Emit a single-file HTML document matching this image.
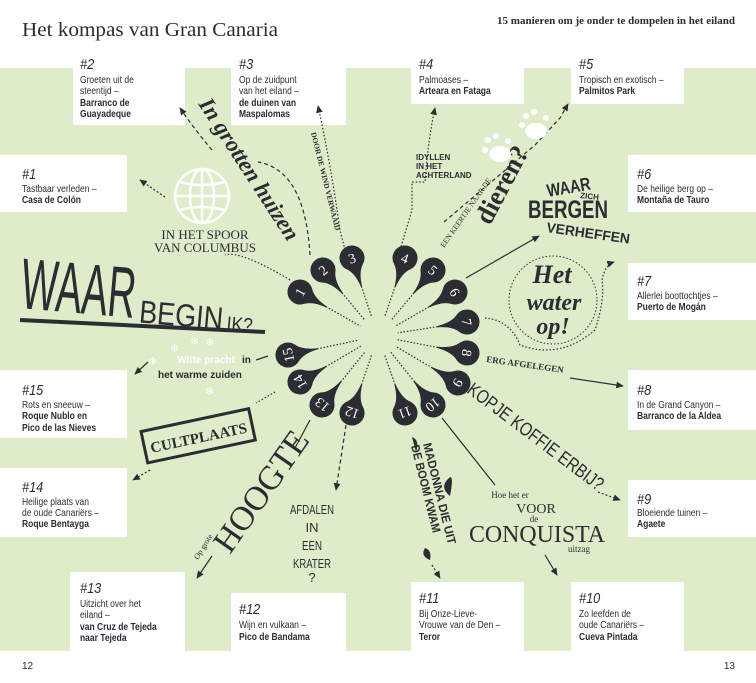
<!DOCTYPE html>
<html><head><meta charset="utf-8"><style>
html,body{margin:0;padding:0;background:#fff}
svg{display:block}
.n{font-family:"Liberation Sans",sans-serif}
.s{font-family:"Liberation Serif",serif}
</style></head><body>
<svg width="756" height="683" viewBox="0 0 756 683" xmlns="http://www.w3.org/2000/svg">
<defs>
<marker id="ah" viewBox="0 0 10 10" refX="8" refY="5" markerWidth="7" markerHeight="7" orient="auto"><path d="M0,1 L9,5 L0,9 Z" fill="#2b2d33"/></marker>
</defs>
<rect x="0" y="68" width="756" height="583" fill="#deecc9"/>
<text x="22" y="36" class="s" font-size="20" fill="#2b2d33" textLength="256" lengthAdjust="spacingAndGlyphs">Het kompas van Gran Canaria</text>
<text x="497" y="24" class="s" font-size="10" font-weight="bold" fill="#2b2d33" textLength="238" lengthAdjust="spacingAndGlyphs">15 manieren om je onder te dompelen in het eiland</text>
<text x="22" y="669" class="n" font-size="10" fill="#2b2d33">12</text>
<text x="735" y="669" class="n" font-size="10" text-anchor="end" fill="#2b2d33">13</text>

<g fill="#fff">
<rect x="73" y="45" width="112" height="80"/><rect x="231" y="45" width="115" height="80"/>
<rect x="411" y="45" width="113" height="59"/><rect x="571" y="45" width="113" height="59"/>
<rect x="0" y="155" width="127" height="57"/><rect x="628" y="155" width="128" height="57"/>
<rect x="628" y="263" width="128" height="57"/>
<rect x="0" y="370" width="127" height="68"/><rect x="628" y="370" width="128" height="60"/>
<rect x="0" y="468" width="127" height="69"/><rect x="628" y="480" width="128" height="57"/>
<rect x="70" y="572" width="115" height="79"/><rect x="231" y="593" width="115" height="58"/>
<rect x="411" y="582" width="113" height="69"/><rect x="571" y="582" width="113" height="69"/>
</g>
<g class="n" font-size="10" fill="#2b2d33">
<g transform="translate(80,0) scale(.85 1)"><text y="69" font-size="15" font-style="italic">#2</text><text y="83">Groeten uit de</text><text y="94">steentijd –</text><text y="106" font-weight="bold">Barranco de</text><text y="117" font-weight="bold">Guayadeque</text></g>
<g transform="translate(239,0) scale(.85 1)"><text y="69" font-size="15" font-style="italic">#3</text><text y="83">Op de zuidpunt</text><text y="94">van het eiland –</text><text y="106" font-weight="bold">de duinen van</text><text y="117" font-weight="bold">Maspalomas</text></g>
<g transform="translate(419,0) scale(.85 1)"><text y="69" font-size="15" font-style="italic">#4</text><text y="83">Palmoases –</text><text y="94" font-weight="bold">Arteara en Fataga</text></g>
<g transform="translate(579,0) scale(.85 1)"><text y="69" font-size="15" font-style="italic">#5</text><text y="83">Tropisch en exotisch –</text><text y="94" font-weight="bold">Palmitos Park</text></g>
<g transform="translate(22,0) scale(.85 1)"><text y="179" font-size="15" font-style="italic">#1</text><text y="192">Tastbaar verleden –</text><text y="203" font-weight="bold">Casa de Colón</text></g>
<g transform="translate(637,0) scale(.85 1)"><text y="179" font-size="15" font-style="italic">#6</text><text y="192">De heilige berg op –</text><text y="203" font-weight="bold">Montaña de Tauro</text></g>
<g transform="translate(637,0) scale(.85 1)"><text y="286" font-size="15" font-style="italic">#7</text><text y="299">Allerlei boottochtjes –</text><text y="310" font-weight="bold">Puerto de Mogán</text></g>
<g transform="translate(22,0) scale(.85 1)"><text y="395" font-size="15" font-style="italic">#15</text><text y="408">Rots en sneeuw –</text><text y="419" font-weight="bold">Roque Nublo en</text><text y="431" font-weight="bold">Pico de las Nieves</text></g>
<g transform="translate(637,0) scale(.85 1)"><text y="395" font-size="15" font-style="italic">#8</text><text y="408">In de Grand Canyon –</text><text y="419" font-weight="bold">Barranco de la Aldea</text></g>
<g transform="translate(22,0) scale(.85 1)"><text y="492" font-size="15" font-style="italic">#14</text><text y="505">Heilige plaats van</text><text y="516">de oude Canariërs –</text><text y="527" font-weight="bold">Roque Bentayga</text></g>
<g transform="translate(637,0) scale(.85 1)"><text y="504" font-size="15" font-style="italic">#9</text><text y="516">Bloeiende tuinen –</text><text y="527" font-weight="bold">Agaete</text></g>
<g transform="translate(80,0) scale(.85 1)"><text y="593" font-size="15" font-style="italic">#13</text><text y="607">Uitzicht over het</text><text y="618">eiland –</text><text y="630" font-weight="bold">van Cruz de Tejeda</text><text y="641" font-weight="bold">naar Tejeda</text></g>
<g transform="translate(239,0) scale(.85 1)"><text y="614" font-size="15" font-style="italic">#12</text><text y="628">Wijn en vulkaan –</text><text y="640" font-weight="bold">Pico de Bandama</text></g>
<g transform="translate(419,0) scale(.85 1)"><text y="603" font-size="15" font-style="italic">#11</text><text y="617">Bij Onze-Lieve-</text><text y="628">Vrouwe van de Den –</text><text y="640" font-weight="bold">Teror</text></g>
<g transform="translate(579,0) scale(.85 1)"><text y="603" font-size="15" font-style="italic">#10</text><text y="617">Zo leefden de</text><text y="628">oude Canariërs –</text><text y="640" font-weight="bold">Cueva Pintada</text></g>
</g>

<!-- connectors -->
<g fill="none" stroke="#2b2d33" stroke-width="1.2">
<path d="M165,197 L140,180" stroke-dasharray="2,2" marker-end="url(#ah)"/>
<path d="M290,280 Q240,250 225,255" stroke-dasharray="1.5,2"/>
<path d="M310,255 Q305,170 258,162" stroke-dasharray="4,3"/>
<path d="M212,150 Q195,130 180,108" stroke-dasharray="4,3" marker-end="url(#ah)"/>
<path d="M345,250 L340,230 Q330,160 318,106" stroke-dasharray="1.5,2" marker-end="url(#ah)"/>
<path d="M400,250 L412,210 L412,182 L425,182 Q428,140 435,108" stroke-dasharray="1.5,2" marker-end="url(#ah)"/>
<path d="M444,222 L535,145 L560,118 L568,104" stroke-dasharray="4,3" marker-end="url(#ah)"/>
<path d="M466,278 L539,236" marker-end="url(#ah)"/>
<path d="M485,318 Q510,320 520,345 Q560,360 595,330 Q605,300 602,280 Q605,265 614,262" stroke-dasharray="1.5,2" marker-end="url(#ah)"/>
<path d="M570,378 L623,386" marker-end="url(#ah)"/>
<path d="M598,492 L620,500" stroke-dasharray="2,2" marker-end="url(#ah)"/>
<path d="M442,418 L495,485"/>
<path d="M545,555 L557,575" marker-end="url(#ah)"/>
<path d="M432,565 L440,578" stroke-dasharray="2,2" marker-end="url(#ah)"/>
<path d="M346,425 L336,490" stroke-dasharray="4,3" marker-end="url(#ah)"/>
<path d="M310,420 L295,448"/>
<path d="M212,556 L197,578" marker-end="url(#ah)"/>
<path d="M150,470 L133,480" stroke-dasharray="2,2" marker-end="url(#ah)"/>
<path d="M275,392 L256,403" stroke-dasharray="1.5,2"/>
<path d="M268,356 L256,360"/>
<path d="M148,362 L135,374" marker-end="url(#ah)"/>
</g>

<!-- globe -->
<g fill="none" stroke="#fff" stroke-width="2.5">
<circle cx="202" cy="196" r="27"/><ellipse cx="202" cy="196" rx="12" ry="27"/><line x1="202" y1="169" x2="202" y2="223"/>
<line x1="175" y1="196" x2="229" y2="196"/><path d="M180,182 Q202,188 224,182"/><path d="M180,210 Q202,204 224,210"/>
</g>
<text x="205" y="239" class="s" font-size="13" text-anchor="middle" fill="#2b2d33">IN HET SPOOR</text>
<text x="205" y="252" class="s" font-size="13" text-anchor="middle" fill="#2b2d33">VAN COLUMBUS</text>

<!-- WAAR BEGIN IK -->
<g fill="#2b2d33" class="n" transform="rotate(5 20 300)">
<text x="20" y="308" font-size="72" textLength="115" lengthAdjust="spacingAndGlyphs">WAAR</text>
<text x="140" y="312" font-size="32" textLength="84" lengthAdjust="spacingAndGlyphs">BEGIN</text>
<text x="228" y="312" font-size="20" textLength="26" lengthAdjust="spacingAndGlyphs">IK?</text>
</g>
<line x1="20" y1="320" x2="265" y2="332" stroke="#2b2d33" stroke-width="4"/>

<text transform="translate(198,104) rotate(57)" font-family="Liberation Serif,serif" font-style="italic" font-weight="bold" font-size="23" fill="#2b2d33">In grotten huizen</text>
<text transform="translate(311,133) rotate(76)" class="s" font-weight="bold" font-size="7.5" fill="#2b2d33">DOOR DE WIND VERWAAID</text>
<g class="n" font-size="8" font-weight="bold" fill="#2b2d33"><text x="416" y="160">IDYLLEN</text><text x="416" y="169">IN HET</text><text x="416" y="178">ACHTERLAND</text></g>
<text transform="translate(444,248) rotate(-55)" class="s" font-size="7.5" fill="#2b2d33">EEN KEERTJE NAAR DE</text>
<text transform="translate(490,226) rotate(-62)" class="s" font-weight="bold" font-size="27" fill="#2b2d33" textLength="84" lengthAdjust="spacingAndGlyphs">dieren?</text>
<!-- paws -->
<g fill="#fff"><ellipse cx="500" cy="154" rx="11" ry="8"/><ellipse cx="536" cy="131" rx="11" ry="8"/>
<circle cx="485" cy="150" r="3"/><circle cx="488" cy="140" r="3"/><circle cx="496" cy="136" r="3"/><circle cx="508" cy="141" r="3"/>
<circle cx="522" cy="125" r="3"/><circle cx="526" cy="116" r="3"/><circle cx="534" cy="112" r="3"/><circle cx="546" cy="118" r="3"/></g>
<g class="n" font-weight="bold" fill="#2b2d33">
<text transform="translate(548,197) rotate(-10)" font-size="18" textLength="44" lengthAdjust="spacingAndGlyphs">WAAR</text>
<text x="580" y="198" font-size="8" transform="rotate(6 580 198)">ZICH</text>
<text x="528" y="218" font-size="25" textLength="80" lengthAdjust="spacingAndGlyphs">BERGEN</text>
<text transform="translate(546,232) rotate(8)" font-size="14" textLength="84" lengthAdjust="spacingAndGlyphs">VERHEFFEN</text>
</g>
<circle cx="553" cy="300" r="44" fill="none" stroke="#2b2d33" stroke-dasharray="1.5,2"/>
<g font-family="Liberation Serif,serif" font-style="italic" font-weight="bold" fill="#2b2d33" text-anchor="middle">
<text x="552" y="283" font-size="26">Het</text><text x="554" y="310" font-size="24">water</text><text x="553" y="334" font-size="24">op!</text></g>
<text transform="translate(486,362) rotate(8)" class="s" font-weight="bold" font-size="9" fill="#2b2d33" textLength="78" lengthAdjust="spacingAndGlyphs">ERG AFGELEGEN</text>
<text transform="translate(466,392) rotate(37)" class="n" font-size="19" fill="#2b2d33" textLength="165" lengthAdjust="spacingAndGlyphs">KOPJE KOFFIE ERBIJ?</text>
<g fill="#2b2d33" text-anchor="middle" class="s"><text x="510" y="498" font-size="9">Hoe het er</text><text x="536" y="513" font-size="14">VOOR</text>
<text x="534" y="522" font-size="9">de</text><text x="537" y="542" font-size="24" textLength="136" lengthAdjust="spacingAndGlyphs">CONQUISTA</text><text x="579" y="552" font-size="9">uitzag</text></g>
<g class="n" font-weight="bold" font-size="12" fill="#2b2d33">
<text transform="translate(423,444) rotate(76)" textLength="104" lengthAdjust="spacingAndGlyphs">MADONNA DIE UIT</text>
<text transform="translate(411,446) rotate(76)" textLength="90" lengthAdjust="spacingAndGlyphs">DE BOOM KWAM</text></g>
<g fill="#2b2d33"><path d="M447,480 Q455,470 450,496 Q440,488 447,480Z"/><path d="M425,548 Q432,550 430,560 Q420,556 425,548Z"/><path d="M412,437 Q420,440 416,452Z"/></g>
<g class="n" font-size="13" fill="#2b2d33" text-anchor="middle"><text x="312" y="514" textLength="44" lengthAdjust="spacingAndGlyphs">AFDALEN</text><text x="312" y="532">IN</text><text x="312" y="550" textLength="20" lengthAdjust="spacingAndGlyphs">EEN</text><text x="312" y="568" textLength="38" lengthAdjust="spacingAndGlyphs">KRATER</text><text x="312" y="582">?</text></g>
<text transform="translate(230,555) rotate(-55)" class="s" font-size="34" fill="#2b2d33" textLength="140" lengthAdjust="spacingAndGlyphs">HOOGTE</text>
<text transform="translate(198,560) rotate(-58)" class="s" font-size="8" fill="#2b2d33">Op grote</text>
<g transform="rotate(-12 197 435)"><rect x="143" y="420" width="110" height="32" fill="none" stroke="#2b2d33" stroke-width="3"/>
<text x="198" y="443" class="s" font-weight="bold" font-size="15" text-anchor="middle" fill="#2b2d33">CULTPLAATS</text></g>
<text x="206" y="363" class="n" font-weight="bold" font-size="10" fill="#fff" text-anchor="middle">Witte pracht</text>
<text x="242" y="363" class="n" font-weight="bold" font-size="10" fill="#2b2d33">in</text>
<text x="158" y="378" class="n" font-weight="bold" font-size="10" fill="#2b2d33">het warme zuiden</text>
<g fill="#fff" font-size="11" font-family="DejaVu Sans,sans-serif"><text x="148" y="365">❄</text><text x="170" y="352">❄</text><text x="190" y="345">❄</text><text x="205" y="346">❄</text><text x="205" y="395">❄</text></g>

<g id="drops"></g>
</svg>
<script>
var d=[[300,292,"1"],[323,270,"2"],[352,258,"3"],[405,258,"4"],[433,270,"5"],[455,292,"6"],[467,322,"7"],[467,353,"8"],[458,383,"9"],[433,405,"10"],[405,413,"11"],[352,413,"12"],[322,405,"13"],[300,382,"14"],[288,355,"15"]];
var cx=378,cy=336,s="";
d.forEach(function(p){var dx=cx-p[0],dy=cy-p[1],L=Math.sqrt(dx*dx+dy*dy),a=Math.atan2(dy,dx)*180/Math.PI;
var ex=p[0]+dx/L*(L-20),ey=p[1]+dy/L*(L-20);
s+='<line x1="'+p[0]+'" y1="'+p[1]+'" x2="'+ex+'" y2="'+ey+'" stroke="#2b2d33" stroke-width="1.2" stroke-dasharray="1.5,1.8"/>';
s+='<g transform="translate('+p[0]+','+p[1]+') rotate('+a+')"><path d="M-12.5,0 A12.5,12.5 0 0,1 9,-8.7 Q15,-2 30,-0.6 L30,0.6 Q15,2 9,8.7 A12.5,12.5 0 0,1 -12.5,0Z" fill="#2b2d33"/></g>';
s+='<text transform="translate('+p[0]+','+p[1]+') rotate('+(a-90)+')" y="5" text-anchor="middle" font-family="Liberation Serif,serif" font-size="14" fill="#fff">'+p[2]+'</text>';});
document.getElementById("drops").innerHTML=s;
</script>
</body></html>
